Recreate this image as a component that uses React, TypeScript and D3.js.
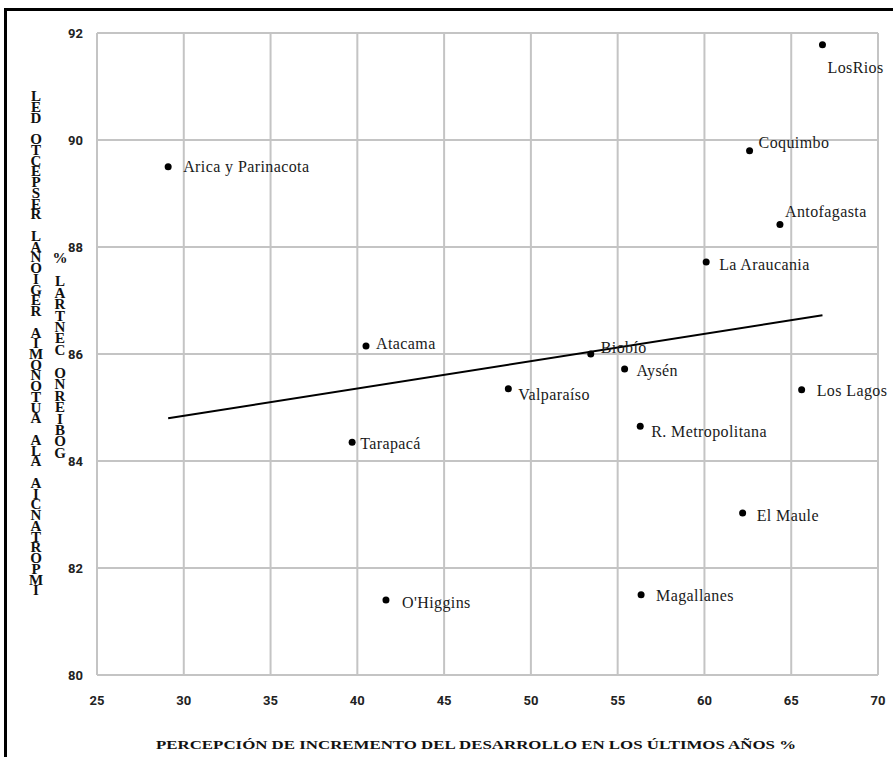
import React from "react";
import * as d3 from "d3";

// regions of Chile
const regions = [
  "Arica y Parinacota", "Atacama", "Tarapacá", "O'Higgins", "Valparaíso",
  "Biobío", "Aysén", "R. Metropolitana", "Magallanes", "La Araucania",
  "Coquimbo", "Antofagasta", "El Maule", "Los Lagos", "LosRios",
];
// percepción de incremento del desarrollo (%)
const desarrollo = [29.1, 40.5, 39.7, 41.65, 48.7, 53.45, 55.4, 56.3, 56.35, 60.1, 62.6, 64.35, 62.2, 65.6, 66.8];
// importancia a la autonomía regional (%)
const autonomia = [89.5, 86.15, 84.35, 81.4, 85.35, 86.0, 85.72, 84.65, 81.5, 87.72, 89.8, 88.42, 83.03, 85.33, 91.78];

const xTicks = [25, 30, 35, 40, 45, 50, 55, 60, 65, 70];
const yTicks = [80, 82, 84, 86, 88, 90, 92];

const xTitle = "PERCEPCIÓN DE INCREMENTO  DEL DESARROLLO EN LOS ÚLTIMOS AÑOS %";
const yTitle1 = "IMPORTANCIA ALA AUTONOMIA REGIONAL RESPECTO DEL";
const yTitle2 = "GOBIERNO CENTRAL %";

// label offsets from the point, px
const labelOffsets: [number, number][] = [
  [15, 0], [10, -3], [8, 1], [16, 2], [10, 6],
  [10, -7], [12, 1], [11, 5], [15, 1], [13, 2],
  [9, -8], [5, -13], [14, 3], [15, 1], [5, 23],
];

const W = 893, H = 757;
const margin = { left: 97, right: 15, top: 33, bottom: 82 };

export default function App() {
  const x = d3.scaleLinear().domain([25, 70]).range([margin.left, W - margin.right]);
  const y = d3.scaleLinear().domain([80, 92]).range([H - margin.bottom, margin.top]);

  const pts = regions.map((name, i) => ({ name, x: desarrollo[i], y: autonomia[i] }));
  const mx = d3.mean(desarrollo)!, my = d3.mean(autonomia)!;
  const slope = d3.sum(pts, p => (p.x - mx) * (p.y - my)) / d3.sum(pts, p => (p.x - mx) ** 2);
  const [x0, x1] = d3.extent(desarrollo) as [number, number];
  const trend = d3.line<number>().x(v => x(v)).y(v => y(my + slope * (v - mx)))([x0, x1]);

  const tickFont = "Roboto, 'Liberation Sans', sans-serif";
  const serif = "'Liberation Serif', 'DejaVu Serif', serif";

  return (
    <svg width={W} height={H} style={{ position: "absolute", left: 0, top: 0, background: "#fff" }}>
      <rect x={0} y={0} width={W} height={H} fill="#fff" />
      {/* outer frame */}
      <path d={`M5.5,${H} V9.5 H${W}`} fill="none" stroke="#000" strokeWidth={3} />

      {/* grid */}
      <g stroke="#c4c4c4" strokeWidth={2}>
        {xTicks.map(t => (
          <line key={"gx" + t} x1={x(t)} x2={x(t)} y1={y(80)} y2={y(92)} />
        ))}
        {yTicks.map(t => (
          <line key={"gy" + t} x1={x(25)} x2={x(70)} y1={y(t)} y2={y(t)} />
        ))}
      </g>

      {/* tick labels */}
      <g fontFamily={tickFont} fontWeight={700} fontSize={13} fill="#222">
        {yTicks.map(t => (
          <text key={"ty" + t} x={x(25) - 14} y={y(t)} dy="0.35em" textAnchor="end">{t}</text>
        ))}
        {xTicks.map(t => (
          <text key={"tx" + t} x={x(t)} y={y(80) + 25} dy="0.35em" textAnchor="middle">{t}</text>
        ))}
      </g>

      {/* trend line */}
      <path d={trend!} fill="none" stroke="#000" strokeWidth={2} />

      {/* points and labels */}
      {pts.map((p, i) => (
        <g key={p.name}>
          <circle cx={x(p.x)} cy={y(p.y)} r={3.5} fill="#000" />
          <text x={x(p.x) + labelOffsets[i][0]} y={y(p.y) + labelOffsets[i][1]} dy="0.35em"
            fontFamily={serif} fontSize={16} letterSpacing={0.4} fill="#1a1a1a">{p.name}</text>
        </g>
      ))}

      {/* x title */}
      <text x={476} y={744} dy="0.35em" textAnchor="middle" fontFamily={serif} fontWeight={700}
        fontSize={13} fill="#111" textLength={640} lengthAdjust="spacingAndGlyphs">{xTitle}</text>

      {/* y title, stacked glyphs */}
      <g fontFamily={serif} fontWeight={700} fontSize={15} fill="#111" textAnchor="middle">
        {yTitle1.split("").reverse().map((c, i) => (
          <text key={"a" + i} x={36} y={96 + i * 10.74} dy="0.35em">{c}</text>
        ))}
        {yTitle2.split("").reverse().map((c, i) => (
          <text key={"b" + i} x={60} y={258 + i * 11.45} dy="0.35em">{c}</text>
        ))}
      </g>
    </svg>
  );
}
